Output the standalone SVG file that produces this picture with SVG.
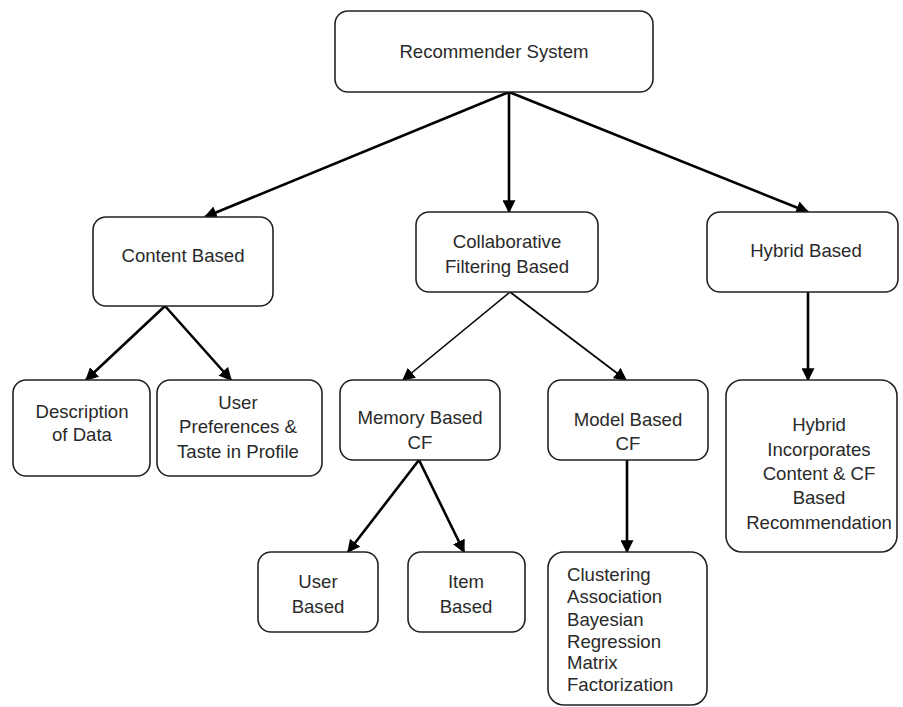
<svg xmlns="http://www.w3.org/2000/svg" width="903" height="707" viewBox="0 0 903 707">
<style>
.box{fill:#fff;stroke:#222;stroke-width:1.6}
.t{font-family:"Liberation Sans",Arial,sans-serif;font-size:18.6px;fill:#2a2a2a;text-anchor:middle}
.tl{font-family:"Liberation Sans",Arial,sans-serif;font-size:18.6px;fill:#2a2a2a;text-anchor:start}
.c{stroke:#000;stroke-width:2.6;fill:none}
.c2{stroke:#000;stroke-width:1.6;fill:none}
</style>
<defs>
<marker id="ah" viewBox="0 0 10 10" refX="9" refY="5" markerWidth="5" markerHeight="5" orient="auto" markerUnits="strokeWidth">
<path d="M0,0 L10,5 L0,10 z" fill="#000"/>
</marker>
<marker id="ah2" viewBox="0 0 10 10" refX="9" refY="5" markerWidth="8" markerHeight="8" orient="auto" markerUnits="strokeWidth">
<path d="M0,0 L10,5 L0,10 z" fill="#000"/>
</marker>
</defs>
<rect width="903" height="707" fill="#fff"/>
<g id="connectors">
<line class="c" x1="509" y1="92" x2="205" y2="217" marker-end="url(#ah)"/>
<line class="c" x1="509" y1="92" x2="509" y2="212" marker-end="url(#ah)"/>
<line class="c" x1="509" y1="92" x2="808" y2="212" marker-end="url(#ah)"/>
<line class="c" x1="165" y1="306" x2="86" y2="380" marker-end="url(#ah)"/>
<line class="c" x1="165" y1="306" x2="231" y2="380" marker-end="url(#ah)"/>
<line class="c2" x1="510" y1="292" x2="403" y2="380" marker-end="url(#ah2)"/>
<line class="c2" x1="510" y1="292" x2="626" y2="380" marker-end="url(#ah2)"/>
<line class="c" x1="808" y1="292" x2="808" y2="380" marker-end="url(#ah)"/>
<line class="c" x1="419" y1="460" x2="348" y2="552" marker-end="url(#ah)"/>
<line class="c" x1="419" y1="460" x2="464" y2="552" marker-end="url(#ah)"/>
<line class="c" x1="627" y1="460" x2="627" y2="552" marker-end="url(#ah)"/>
</g>
<g id="root"><rect class="box" x="335" y="11" width="318" height="81" rx="13"/><text class="t" x="494" y="58">Recommender System</text></g>
<g id="content"><rect class="box" x="93" y="217" width="180" height="89" rx="13"/><text class="t" x="183" y="262">Content Based</text></g>
<g id="collab"><rect class="box" x="416" y="212" width="182" height="80" rx="13"/><text class="t" x="507" y="248">Collaborative</text><text class="t" x="507" y="273">Filtering Based</text></g>
<g id="hybrid"><rect class="box" x="707" y="212" width="191" height="80" rx="13"/><text class="t" x="806" y="257">Hybrid Based</text></g>
<g id="desc"><rect class="box" x="13" y="380" width="137" height="96" rx="13"/><text class="t" x="82" y="418">Description</text><text class="t" x="82" y="441">of Data</text></g>
<g id="userpref"><rect class="box" x="157" y="380" width="165" height="96" rx="13"/><text class="t" x="238" y="409">User</text><text class="t" x="238" y="433">Preferences &amp;</text><text class="t" x="238" y="458">Taste in Profile</text></g>
<g id="memory"><rect class="box" x="340" y="380" width="160" height="80" rx="13"/><text class="t" x="420" y="424">Memory Based</text><text class="t" x="420" y="449">CF</text></g>
<g id="model"><rect class="box" x="548" y="380" width="160" height="80" rx="13"/><text class="t" x="628" y="426">Model Based</text><text class="t" x="628" y="450">CF</text></g>
<g id="hybridinc"><rect class="box" x="726" y="380" width="171" height="172" rx="16"/><text class="t" x="819" y="431">Hybrid</text><text class="t" x="819" y="456">Incorporates</text><text class="t" x="819" y="480">Content &amp; CF</text><text class="t" x="819" y="504">Based</text><text class="t" x="819" y="529">Recommendation</text></g>
<g id="userbased"><rect class="box" x="258" y="552" width="120" height="80" rx="13"/><text class="t" x="318" y="588">User</text><text class="t" x="318" y="613">Based</text></g>
<g id="itembased"><rect class="box" x="408" y="552" width="117" height="80" rx="13"/><text class="t" x="466" y="588">Item</text><text class="t" x="466" y="613">Based</text></g>
<g id="modeltypes"><rect class="box" x="548" y="552" width="159" height="153" rx="16"/><text class="tl" x="567" y="581">Clustering</text><text class="tl" x="567" y="603">Association</text><text class="tl" x="567" y="626">Bayesian</text><text class="tl" x="567" y="648">Regression</text><text class="tl" x="567" y="669">Matrix</text><text class="tl" x="567" y="691">Factorization</text></g>
</svg>
